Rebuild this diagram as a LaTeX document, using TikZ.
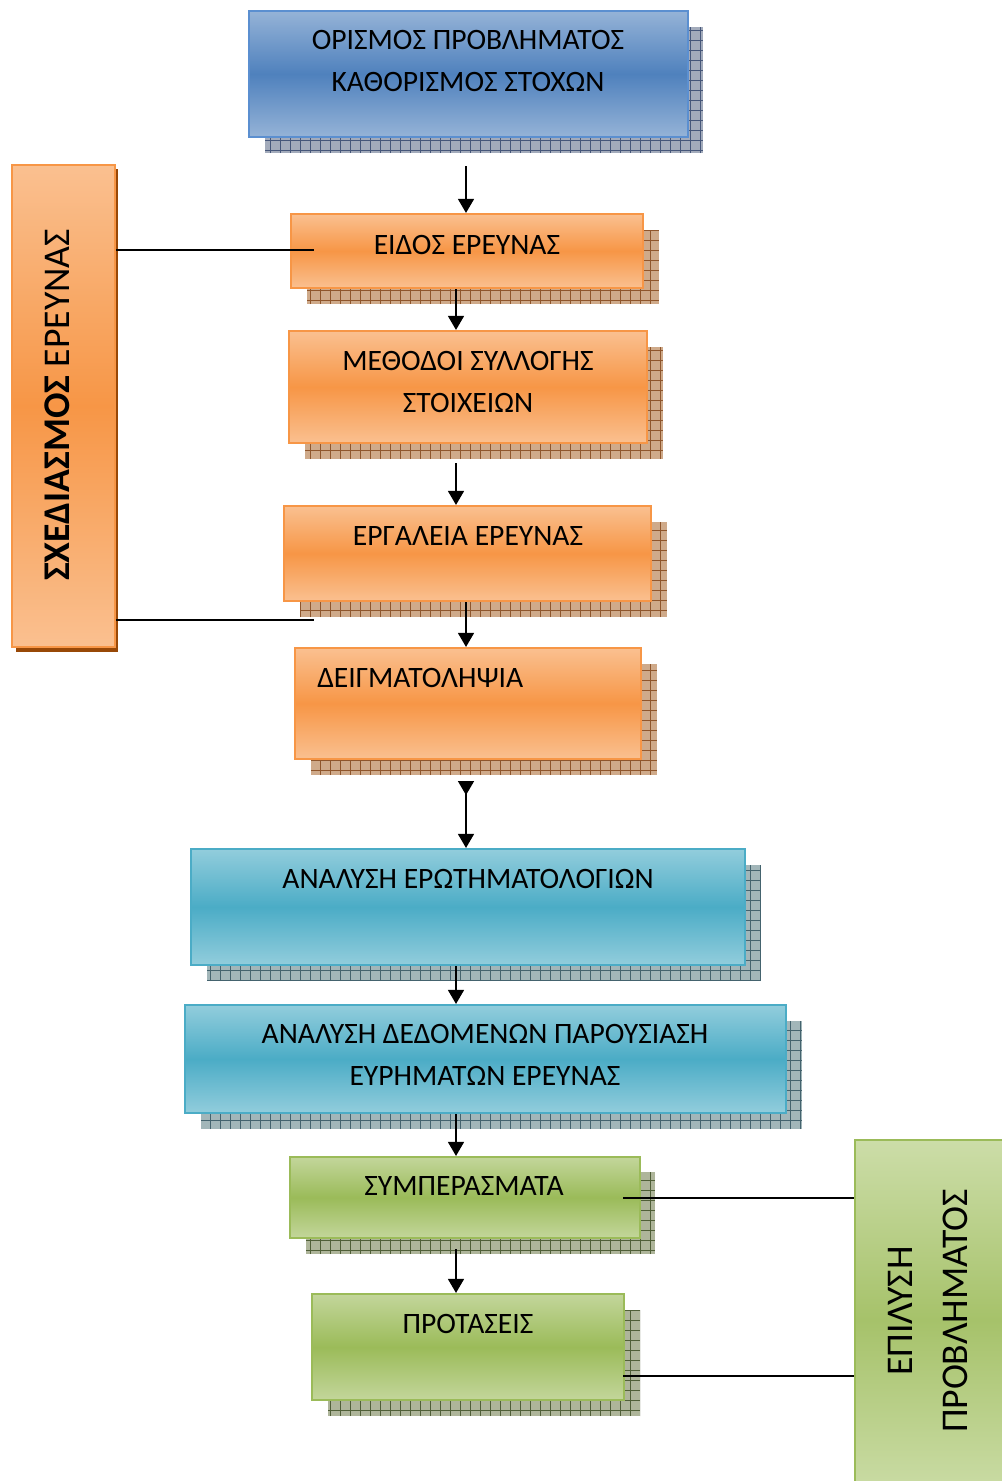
\documentclass[tikz,border=0pt]{standalone}
\usepackage{fontspec}
\setmainfont{Carlito}
\usetikzlibrary{arrows.meta,calc}

\definecolor{bluLight}{HTML}{95B3D7}
\definecolor{bluDark}{HTML}{4F81BD}
\definecolor{bluEdge}{HTML}{5B8FD0}
\definecolor{orLight}{HTML}{FAC090}
\definecolor{orDark}{HTML}{F79646}
\definecolor{orEdge}{HTML}{F79646}
\definecolor{orDeep}{HTML}{984807}
\definecolor{tqLight}{HTML}{92CDDC}
\definecolor{tqDark}{HTML}{4BACC6}
\definecolor{grLight}{HTML}{C3D69B}
\definecolor{grDark}{HTML}{9BBB59}
\definecolor{grPale}{HTML}{CCDDA8}
\definecolor{grMid}{HTML}{A6C26A}
% hatched shadow tones
\definecolor{shBluFill}{HTML}{A3ABBB}
\definecolor{shBluLine}{HTML}{46577A}
\definecolor{shOrFill}{HTML}{CFAA8A}
\definecolor{shOrLine}{HTML}{8F562C}
\definecolor{shTqFill}{HTML}{A2B6B9}
\definecolor{shTqLine}{HTML}{44636E}
\definecolor{shGrFill}{HTML}{AEB59A}
\definecolor{shGrLine}{HTML}{505F38}

\tikzset{
  x=0.75pt, y=-0.75pt,
  panel/.style={rectangle, inner sep=0pt, line width=1.6pt},
  bluepanel/.style={panel, draw=bluEdge, top color=bluLight, bottom color=bluLight, middle color=bluDark},
  orangepanel/.style={panel, draw=orEdge, top color=orLight, bottom color=orLight, middle color=orDark},
  tealpanel/.style={panel, draw=tqDark, top color=tqLight, bottom color=tqLight, middle color=tqDark},
  greenpanel/.style={panel, draw=grDark, top color=grLight, bottom color=grLight, middle color=grDark},
  caption/.style={font=\fontsize{22.2}{31.5}\selectfont, align=center, inner sep=0pt},
  sidecaption/.style={font=\fontsize{28.3}{41}\selectfont, align=center, inner sep=0pt, rotate=90},
  flow/.style={-{Triangle[width=12pt,length=10.5pt]}, line width=1pt},
  tie/.style={line width=1pt}
}

% panel from corner (x1,y1) to corner (x2,y2)
\newcommand\flowpanel[6]{%
  \node[#6, minimum width={(#4-#2)*0.75pt}, minimum height={(#5-#3)*0.75pt}]
    (#1) at ({(#2+#4)/2},{(#3+#5)/2}) {};}
% hatched drop shadow
\newcommand\gridshadow[6]{%
  \begin{scope}
    \clip (#1,#2) rectangle (#3,#4);
    \fill[#5] (#1,#2) rectangle (#3,#4);
    \draw[#6, line width=0.55pt, xstep=7.5pt, ystep=7.5pt] (#1,#2) grid (#3,#4);
  \end{scope}}

\begin{document}
\begin{tikzpicture}
\clip (0,0) rectangle (1002,1481);
\fill[white] (0,0) rectangle (1002,1481);

\coordinate (spineA) at (456,0);
\coordinate (spineB) at (466,0);

% shadows
\gridshadow{265}{27}{703}{153}{shBluFill}{shBluLine}
\gridshadow{307}{230}{659}{304}{shOrFill}{shOrLine}
\gridshadow{305}{347}{663}{459}{shOrFill}{shOrLine}
\gridshadow{300}{522}{667}{617}{shOrFill}{shOrLine}
\gridshadow{311}{664}{657}{775}{shOrFill}{shOrLine}
\gridshadow{207}{865}{761}{981}{shTqFill}{shTqLine}
\gridshadow{201}{1021}{802}{1129}{shTqFill}{shTqLine}
\gridshadow{306}{1172}{655}{1254}{shGrFill}{shGrLine}
\gridshadow{328}{1310}{640}{1416}{shGrFill}{shGrLine}
\fill[orDeep] (16,169) rectangle (118,652);

% panels
\flowpanel{problem}{249}{11}{688}{137}{bluepanel}
\flowpanel{kind}{291}{214}{643}{288}{orangepanel}
\flowpanel{methods}{289}{331}{647}{443}{orangepanel}
\flowpanel{tools}{284}{506}{651}{601}{orangepanel}
\flowpanel{sampling}{295}{648}{641}{759}{orangepanel}
\flowpanel{questionnaires}{191}{849}{745}{965}{tealpanel}
\flowpanel{analysis}{185}{1005}{786}{1113}{tealpanel}
\flowpanel{conclusions}{290}{1157}{640}{1238}{greenpanel}
\flowpanel{proposals}{312}{1294}{624}{1400}{greenpanel}
\flowpanel{design}{12}{165}{115}{647}{orangepanel}
\node[panel, draw=grDark, top color=grPale, bottom color=grPale, middle color=grMid,
      minimum width={160*0.75pt}, minimum height={360*0.75pt}] (solution) at (935,1320) {};

% captions
\node[caption] (problem-t) at (468,61) {ΟΡΙΣΜΟΣ ΠΡΟΒΛΗΜΑΤΟΣ\\ΚΑΘΟΡΙΣΜΟΣ ΣΤΟΧΩΝ};
\node[caption] (kind-t) at (467,245) {ΕΙΔΟΣ ΕΡΕΥΝΑΣ};
\node[caption] (methods-t) at (468,382) {ΜΕΘΟΔΟΙ ΣΥΛΛΟΓΗΣ\\ΣΤΟΙΧΕΙΩΝ};
\node[caption] (tools-t) at (468,536) {ΕΡΓΑΛΕΙΑ ΕΡΕΥΝΑΣ};
\node[caption, anchor=west] (sampling-t) at (317,678) {ΔΕΙΓΜΑΤΟΛΗΨΙΑ};
\node[caption] (questionnaires-t) at (468,879) {ΑΝΑΛΥΣΗ ΕΡΩΤΗΜΑΤΟΛΟΓΙΩΝ};
\node[caption] (analysis-t) at (485,1055) {ΑΝΑΛΥΣΗ ΔΕΔΟΜΕΝΩΝ ΠΑΡΟΥΣΙΑΣΗ\\ΕΥΡΗΜΑΤΩΝ ΕΡΕΥΝΑΣ};
\node[caption] (conclusions-t) at (464,1186) {ΣΥΜΠΕΡΑΣΜΑΤΑ};
\node[caption] (proposals-t) at (468,1324) {ΠΡΟΤΑΣΕΙΣ};
\node[sidecaption] (design-t) at (57,405) {\textbf{ΣΧΕΔΙΑΣΜΟΣ} ΕΡΕΥΝΑΣ};
\node[sidecaption] (solution-t) at (928,1311) {ΕΠΙΛΥΣΗ\\ΠΡΟΒΛΗΜΑΤΟΣ};

% flow arrows
\draw[flow] ($(problem.south -| spineB)+(0,28)$) -- (kind.north -| spineB);
\draw[flow] (kind.south -| spineA) -- (methods.north -| spineA);
\draw[flow] ($(methods.south -| spineA)+(0,19)$) -- (tools.north -| spineA);
\draw[flow] (tools.south -| spineB) -- (sampling.north -| spineB);
\draw[{Triangle[reversed,width=12pt,length=10.5pt]}-{Triangle[width=12pt,length=10.5pt]}, line width=1pt]
  ($(sampling.south -| spineB)+(0,21)$) -- (questionnaires.north -| spineB);
\draw[flow] (questionnaires.south -| spineA) -- (analysis.north -| spineA);
\draw[flow] (analysis.south -| spineA) -- (conclusions.north -| spineA);
\draw[flow] ($(conclusions.south -| spineA)+(0,10)$) -- (proposals.north -| spineA);

% grouping ties
\coordinate (tieKind) at (314,250);
\coordinate (tieTools) at (314,620);
\coordinate (tieConcl) at (623,1198);
\coordinate (tieProp) at (623,1376);
\draw[tie] (design.east |- tieKind) -- (tieKind);
\draw[tie] (design.east |- tieTools) -- (tieTools);
\draw[tie] (tieConcl) -- (solution.west |- tieConcl);
\draw[tie] (tieProp) -- (solution.west |- tieProp);
\end{tikzpicture}
\end{document}
